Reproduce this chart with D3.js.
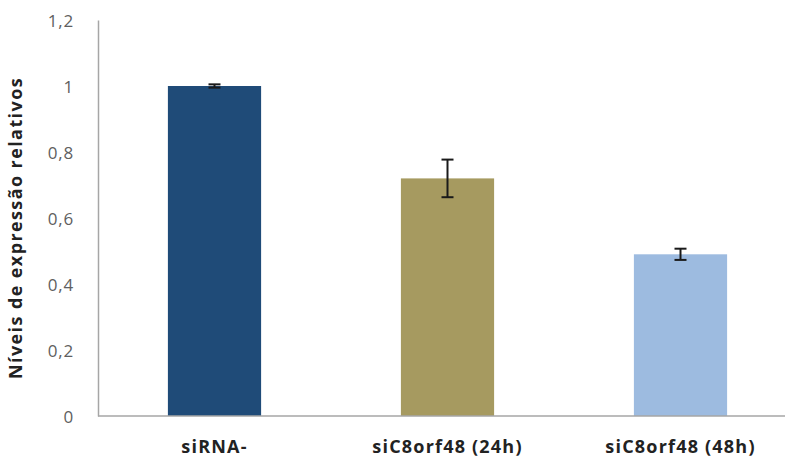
<!DOCTYPE html>
<html>
<head>
<meta charset="utf-8">
<script src="https://cdn.jsdelivr.net/npm/d3@7"></script>
<style>
  body { margin: 0; background: #fff; }
  svg { display: block; font-family: "Open Sans", "DejaVu Sans", sans-serif; }
</style>
</head>
<body>
<svg id="chart"></svg>
<script>
/* data */
const categories = ["siRNA-", "siC8orf48 (24h)", "siC8orf48 (48h)"];
const values = [1.0, 0.72, 0.49];
const errors = [0.005, 0.057, 0.017];
const colors = ["#1f4b78", "#a69a60", "#9dbbe0"];
const yTicks = [0, 0.2, 0.4, 0.6, 0.8, 1, 1.2];

/* display parameters */
const width = 785,
  height = 459,
  margin_left = 98,
  margin_top = 20,
  axis_bottom = 416;

const svg = d3.select("#chart").attr("width", width).attr("height", height);

const x = d3.scaleBand()
  .domain(categories)
  .range([margin_left, margin_left + 699])
  .paddingInner(0.6)
  .paddingOuter(0.3);

const y = d3.scaleLinear().domain([0, 1.2]).range([axis_bottom, margin_top]);

const fmt = d => String(d).replace(".", ",");

/* y axis */
const yAxis = svg.append("g")
  .attr("transform", "translate(" + margin_left + ",0)")
  .call(d3.axisLeft(y).tickValues(yTicks).tickFormat(fmt).tickSize(0).tickPadding(24));
yAxis.select(".domain").attr("stroke", "#a6a6a6").attr("stroke-width", 1.5);
yAxis.selectAll(".tick text")
  .attr("fill", "#606060")
  .attr("font-size", 17)
  .attr("letter-spacing", 0.8)
  .attr("font-family", "\"Open Sans\", sans-serif")
  .attr("dy", "0.4em");

svg.append("text")
  .attr("transform", "translate(22," + 228 + ") rotate(-90)")
  .attr("text-anchor", "middle")
  .attr("font-size", 18)
  .attr("font-weight", "bold")
  .attr("letter-spacing", 1.4)
  .attr("fill", "#222")
  .text("Níveis de expressão relativos");

/* bars */
svg.append("g")
  .selectAll("rect")
  .data(values)
  .join("rect")
  .attr("x", (d, i) => x(categories[i]))
  .attr("width", x.bandwidth())
  .attr("y", d => y(d))
  .attr("height", d => y(0) - y(d))
  .attr("fill", (d, i) => colors[i]);

/* error bars */
const err = svg.append("g")
  .attr("stroke", "#1a1a1a")
  .attr("stroke-width", 2)
  .selectAll("g")
  .data(values)
  .join("g");

err.append("line")
  .attr("x1", (d, i) => x(categories[i]) + x.bandwidth() / 2)
  .attr("x2", (d, i) => x(categories[i]) + x.bandwidth() / 2)
  .attr("y1", (d, i) => y(d + errors[i]))
  .attr("y2", (d, i) => y(d - errors[i]));

[1, -1].forEach(s => {
  err.append("line")
    .attr("x1", (d, i) => x(categories[i]) + x.bandwidth() / 2 - 6)
    .attr("x2", (d, i) => x(categories[i]) + x.bandwidth() / 2 + 6)
    .attr("y1", (d, i) => y(d + s * errors[i]))
    .attr("y2", (d, i) => y(d + s * errors[i]));
});

/* x axis */
svg.append("line")
  .attr("x1", margin_left)
  .attr("x2", width)
  .attr("y1", y(0))
  .attr("y2", y(0))
  .attr("stroke", "#a6a6a6")
  .attr("stroke-width", 1.5);

svg.append("g")
  .selectAll("text")
  .data(categories)
  .join("text")
  .attr("x", d => x(d) + x.bandwidth() / 2)
  .attr("y", 453)
  .attr("text-anchor", "middle")
  .attr("font-size", 18)
  .attr("font-weight", "bold")
  .attr("letter-spacing", 1.2)
  .attr("fill", "#222")
  .text(d => d);
</script>
</body>
</html>
